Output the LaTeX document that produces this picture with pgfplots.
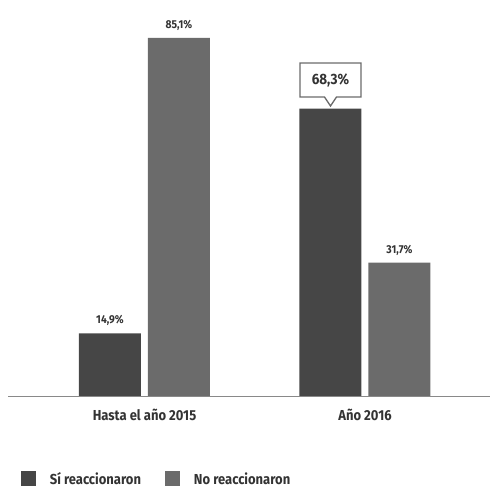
\documentclass[border=0pt]{standalone}
\usepackage{pgfplots}
\pgfplotsset{compat=1.18}
\usepackage{fontspec}
\setmainfont{Fira Sans}[FakeStretch=0.9]
\usetikzlibrary{shapes.callouts}
\definecolor{osc}{HTML}{464646}
\definecolor{gri}{HTML}{6B6B6B}
\definecolor{txt}{HTML}{333333}
\begin{document}
\begin{tikzpicture}[x=1bp,y=1bp]
\useasboundingbox (0,0) rectangle (500,488);
\begin{axis}[
  at={(8bp,92bp)}, anchor=south west,
  scale only axis, width=482bp, height=395.5bp,
  xmin=-0.619, xmax=1.567, ymin=0, ymax=94,
  ybar, bar width=62bp,
  /pgf/number format/assume math mode=true,
  axis x line=bottom, axis y line=none,
  x axis line style={-, color=gri!80, line width=0.8pt},
  xtick={0,1}, xticklabels={Hasta el año 2015, Año 2016},
  xtick style={draw=none},
  xticklabel style={font=\fontsize{14.5}{16}\selectfont\bfseries, text=txt, yshift=-7bp},
  clip=false,
  legend style={at={(0.02,-0.21)}, anchor=west, draw=none, fill=none,
    legend columns=2, font=\fontsize{14.5}{16}\selectfont\bfseries, text=txt,
    /tikz/every even column/.append style={column sep=22bp}},
  legend image code/.code={\fill[#1] (0bp,-7bp) rectangle (15bp,8bp);},
  legend cell align=left,
  nodes near coords style={font=\fontsize{11.5}{13}\selectfont\bfseries, text=txt, yshift=4bp},
]
\addplot[fill=osc, draw=none, bar shift=-34.5bp,
  nodes near coords={\pgfmathprintnumber[fixed,precision=1,use comma]{\pgfplotspointmeta}\%},
  nodes near coords style={opacity=0}]
  coordinates {(0,14.9) (1,68.3)};
\addlegendentry{\hspace{12bp}Sí reaccionaron}
\addplot[fill=gri, draw=none, bar shift=34.5bp,
  nodes near coords={\pgfmathprintnumber[fixed,precision=1,use comma]{\pgfplotspointmeta}\%}]
  coordinates {(0,85.1) (1,31.7)};
\addlegendentry{\hspace{12bp}No reaccionaron}
\node[font=\fontsize{11.5}{13}\selectfont\bfseries, text=txt, anchor=south, yshift=4bp]
  at (axis cs:0,14.9) [xshift=-34.5bp] {14,9\%};
\node[rectangle callout, draw=gri, line width=1.3pt, fill=white,
  minimum width=61bp, minimum height=34bp, inner sep=2bp,
  callout relative pointer={(0bp,-9bp)}, callout pointer width=12bp,
  font=\fontsize{15}{17}\selectfont\bfseries, text=txt]
  at (axis cs:1,75.1) [xshift=-34.5bp] {68,3\%};
\end{axis}
\end{tikzpicture}
\end{document}
